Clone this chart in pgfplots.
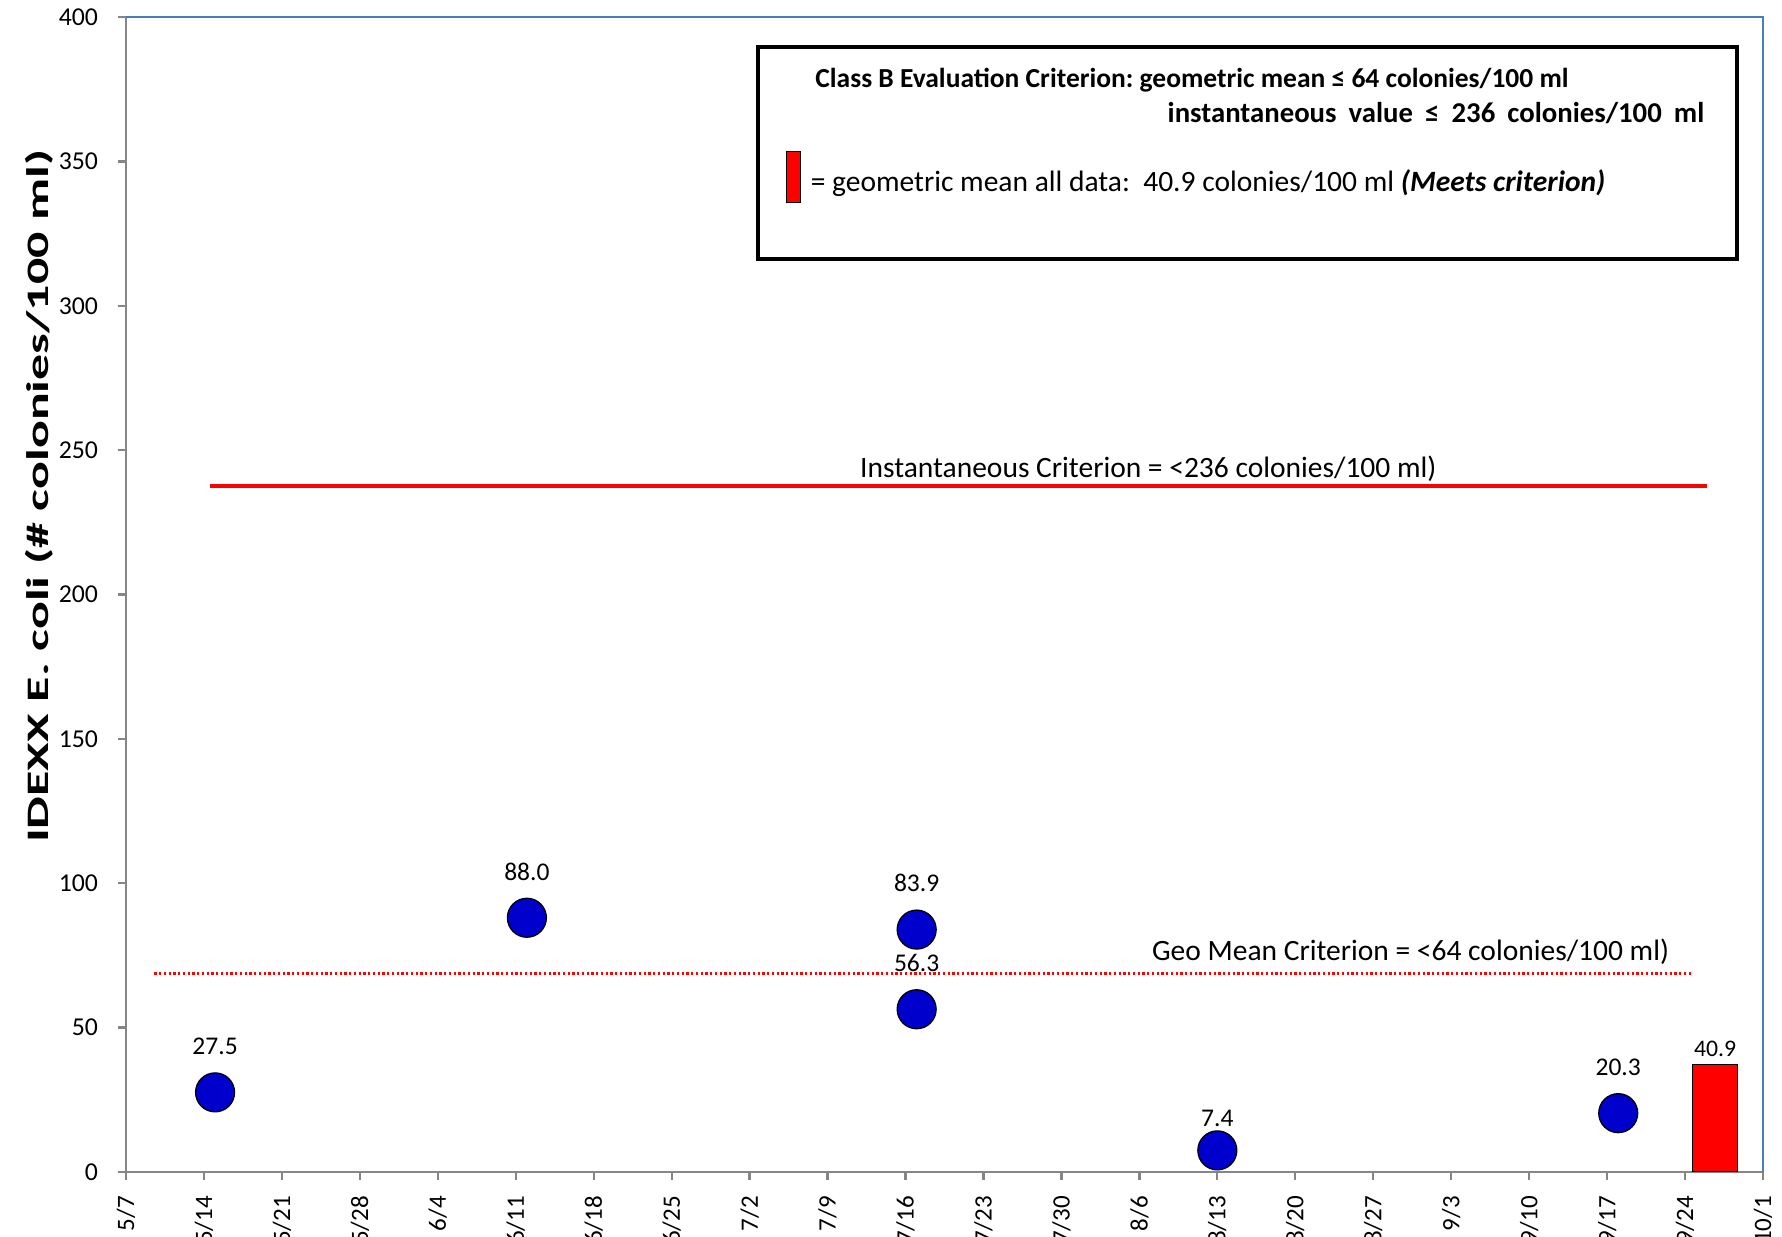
\documentclass[border=0pt]{standalone}
\usepackage{pgfplots}
\pgfplotsset{compat=1.18}
\usepackage{fontspec}
\setmainfont{Carlito}
\definecolor{axgray}{HTML}{868686}
\definecolor{bordblue}{HTML}{4A7EBB}
\definecolor{dotblue}{HTML}{0000CC}
\frenchspacing
\begin{document}
\begin{tikzpicture}
\begin{axis}[
  name=ax,
  scale only axis,
  width=654.8pt, height=461.8pt,
  xmin=0, xmax=147, ymin=0, ymax=400,
  axis x line*=bottom, axis y line*=left,
  axis line style={axgray, line width=0.9pt},
  tick style={axgray, line width=0.9pt},
  tick align=outside, major tick length=3.3pt,
  xtick={0,7,...,147},
  xticklabels={5/7,5/14,5/21,5/28,6/4,6/11,6/18,6/25,7/2,7/9,7/16,7/23,7/30,8/6,8/13,8/20,8/27,9/3,9/10,9/17,9/24,10/1},
  xticklabel style={rotate=90, anchor=east, font=\fontsize{10}{12}\selectfont},
  xticklabel shift=3pt,
  ytick={0,50,...,400},
  yticklabel style={font=\fontsize{10.3}{12}\selectfont},
  yticklabel shift=4.4pt,
  /pgf/number format/assume math mode=true,
  clip=false,
]
\draw[bordblue, line width=0.6pt] (rel axis cs:0,1) -- (rel axis cs:1,1) -- (rel axis cs:1,0);
% criterion lines
\addplot[red, line width=1.8pt] coordinates {(7.55,237.6) (142,237.6)};
\addplot[red, line width=0.9pt, densely dotted] coordinates {(2.55,68.7) (140.7,68.7)};
\node[font=\fontsize{11.8}{13}\selectfont] at (axis cs:91.8,243.6) {Instantaneous Criterion = <236 colonies/100 ml)};
\node[font=\fontsize{11.8}{13}\selectfont] at (axis cs:115.35,76.2) {Geo Mean Criterion = <64 colonies/100 ml)};
% geometric mean bar
\addplot[ybar, bar width=4, bar shift=0pt, fill=red, draw=black, line width=0.4pt] coordinates {(142.7,37.0)};
\node[anchor=south, font=\fontsize{9.5}{11}\selectfont, inner sep=1pt] at (axis cs:142.7,37.0) [yshift=2pt] {40.9};
% samples
\addplot[only marks, mark=*, mark size=7.8pt, mark options={fill=dotblue, draw=black, line width=0.5pt}] coordinates {
  (8,27.5) (36,88.0) (71,83.9) (71,56.3) (98,7.4) (134,20.3)};
\begin{scope}[every node/.style={font=\fontsize{10.2}{12}\selectfont}]
\node[yshift=18.5pt] at (axis cs:8,27.5) {27.5};
\node[yshift=18.5pt] at (axis cs:36,88.0) {88.0};
\node[yshift=18.5pt] at (axis cs:71,83.9) {83.9};
\node[yshift=18.5pt] at (axis cs:71,56.3) {56.3};
\node[yshift=12.7pt] at (axis cs:98,7.4) {7.4};
\node[yshift=18.5pt] at (axis cs:134,20.3) {20.3};
\end{scope}
% info box
\draw[black, line width=1.8pt, fill=white] (axis cs:56.76,316.3) rectangle (axis cs:144.65,389.7);
\draw[black, line width=0.3pt, fill=red] (axis cs:59.3,335.7) rectangle (axis cs:60.6,353.5);
\node[anchor=west, inner sep=0pt, font=\bfseries\fontsize{11}{13}\selectfont] at (axis cs:61.86,378.3) {Class B Evaluation Criterion: geometric mean ≤ 64 colonies/100 ml};
\node[anchor=west, inner sep=0pt, font=\bfseries\fontsize{11.5}{13}\selectfont] at (axis cs:93.5,366.8) {\makebox[214.6pt][s]{instantaneous value ≤ 236 colonies/100 ml}};
\node[anchor=west, inner sep=0pt, font=\fontsize{11.8}{13}\selectfont] at (axis cs:61.45,342.7) {= geometric mean all data:\ \ 40.9 colonies/100 ml \textbf{\textit{(Meets criterion)}}};
% y label
\node[rotate=90, font=\bfseries\fontsize{12.5}{15}\selectfont] at (axis description cs:-0.053,0.585) {\scalebox{1.66}[1]{IDEXX E. coli (\# colonies/100 ml)}};
\end{axis}
\pgfresetboundingbox
\path[use as bounding box] ([xshift=-50.4pt,yshift=-26pt]ax.south west) rectangle ([xshift=7.6pt,yshift=6.9pt]ax.north east);
\end{tikzpicture}
\end{document}
